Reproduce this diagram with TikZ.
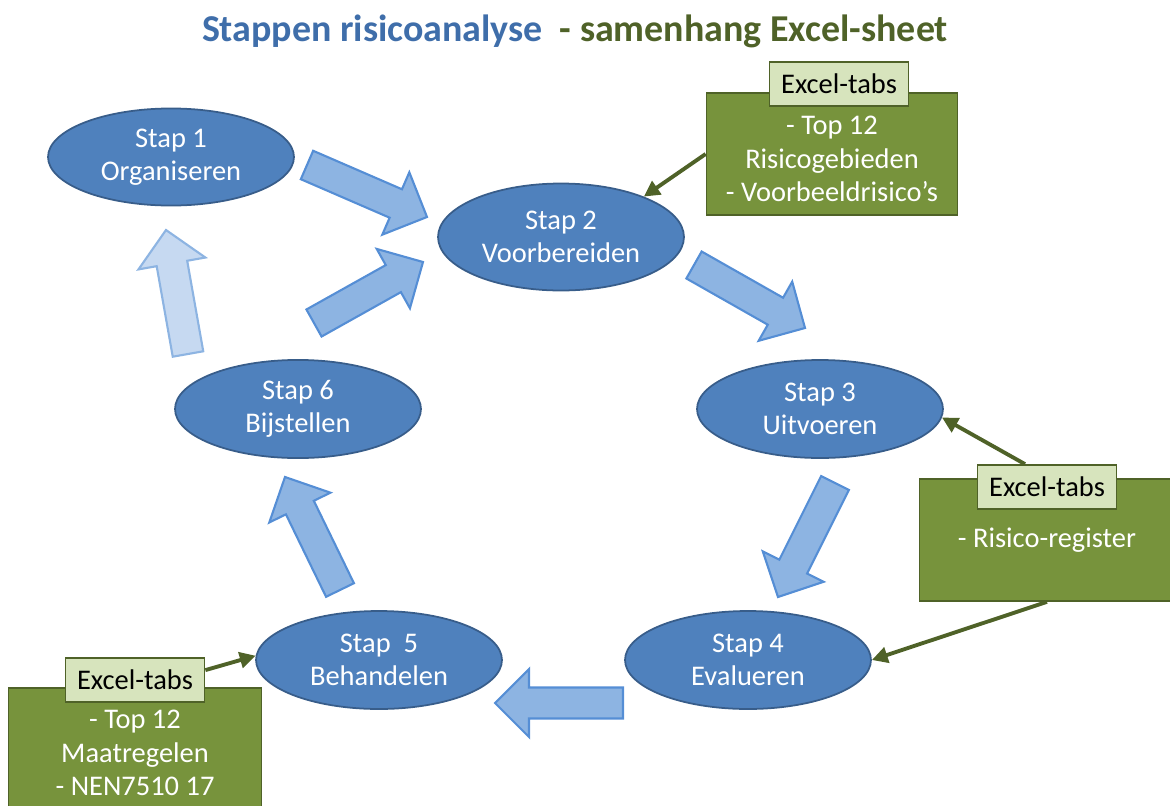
\documentclass[tikz,border=0pt]{standalone}
\usepackage{fontspec}
\setmainfont{Carlito}
\usetikzlibrary{shapes.geometric,arrows.meta,calc}

\definecolor{stapfill}{HTML}{4F81BD}
\definecolor{stapline}{HTML}{385D8A}
\definecolor{pijlfill}{HTML}{8DB4E2}
\definecolor{pijlline}{HTML}{558ED5}
\definecolor{pijllicht}{HTML}{C6D9F1}
\definecolor{tabfill}{HTML}{77933C}
\definecolor{tabline}{HTML}{4F6228}
\definecolor{labelfill}{HTML}{D7E4BD}
\definecolor{titelblauw}{HTML}{3F6EAA}
\definecolor{titelgroen}{HTML}{4F6228}

\tikzset{
  stap/.style={ellipse, draw=stapline, fill=stapfill, line width=1pt, text=white, align=center,
    minimum width=4.92cm, minimum height=1.96cm},
  tabblok/.style={rectangle, draw=tabline, fill=tabfill, line width=1pt, text=white, align=center,
    minimum width=5.02cm, minimum height=2.44cm},
  tablabel/.style={rectangle, draw=tabline, fill=labelfill, line width=1pt,
    minimum width=2.78cm, minimum height=0.88cm},
  verwijs/.style={draw=tabline, line width=2.2pt, -{Triangle[length=9pt,width=9pt]}},
  pijl/.style={draw=pijlline, fill=pijlfill, line width=1.2pt},
  lichtpijl/.style={draw=pijlfill, fill=pijllicht, line width=1.2pt}
}

\newcommand{\blokpijl}[3]{%
  \coordinate (basis) at ($(#2)!0.68cm!(#1)$);
  \draw[#3] ($(#1)!0.31cm!90:(#2)$) -- ($(basis)!0.31cm!90:(#2)$) -- ($(basis)!0.68cm!90:(#2)$)
    -- (#2) -- ($(basis)!0.68cm!-90:(#2)$) -- ($(basis)!0.31cm!-90:(#2)$) -- ($(#1)!0.31cm!-90:(#2)$) -- cycle;
}

\begin{document}
\begin{tikzpicture}[x=0.02cm, y=-0.02cm, font=\fontsize{16.2}{19.1}\selectfont]
	\useasboundingbox (0,0) rectangle (1170,805);
	\node (titel) at (575,31) {\fontsize{21.6}{26}\selectfont\bfseries\textcolor{titelblauw}{Stappen risicoanalyse}\ \ \textcolor{titelgroen}{- samenhang Excel-sheet}};

	\node[stap, minimum height=1.82cm] (s1) at (171,157) {Stap 1\\Organiseren};
	\node[stap, minimum height=2.14cm] (s2) at (561,237) {Stap 2\\Voorbereiden};
	\node[stap] (s3) at (820,409) {Stap 3\\Uitvoeren};
	\node[stap] (s4) at (748,660) {Stap 4\\Evalueren};
	\node[stap] (s5) at (379,660) {Stap\ \ 5\\Behandelen};
	\node[stap] (s6) at (298,409) {Stap 6\\Bijstellen};

	\coordinate (p1a) at (307,165); \coordinate (p1b) at (427,217);
	\coordinate (p2a) at (314,323); \coordinate (p2b) at (423,262);
	\coordinate (p3a) at (188,354); \coordinate (p3b) at (166,230);
	\coordinate (p4a) at (694,265); \coordinate (p4b) at (805,328);
	\coordinate (p5a) at (835,483); \coordinate (p5b) at (778,597);
	\coordinate (p6a) at (623,703); \coordinate (p6b) at (495,703);
	\coordinate (p7a) at (340,590); \coordinate (p7b) at (285,477);
	\foreach \p in {1,2,4,5,6,7}
		\blokpijl{p\p a}{p\p b}{pijl};
	\blokpijl{p3a}{p3b}{lichtpijl};

	\node[tabblok] (tab1) at (832,154) {\raisebox{-0.15cm}[\height][\depth]{\begin{tabular}{@{}c@{}}- Top 12\\Risicogebieden\\- Voorbeeldrisico’s\end{tabular}}};
	\node[tablabel] (lab1) at (839,84) {Excel-tabs};
	\node[tabblok, minimum width=5.1cm] (tab2) at (1047,540) {- Risico-register};
	\node[tablabel] (lab2) at (1047,487) {Excel-tabs};
	\node[tabblok, minimum width=5.06cm, minimum height=2.6cm] (tab3) at (135,753) {- Top 12\\Maatregelen\\- NEN7510 17};
	\node[tablabel] (lab3) at (135,680) {Excel-tabs};

	\draw[verwijs] (tab1.west) -- (s2.26);
	\draw[verwijs] ($(lab2.north)+(-22,0)$) -- (s3.-4);
	\draw[verwijs] (tab2.south) -- (s4.east);
	\draw[verwijs] (lab3.8) -- (s5.178);
\end{tikzpicture}
\end{document}
